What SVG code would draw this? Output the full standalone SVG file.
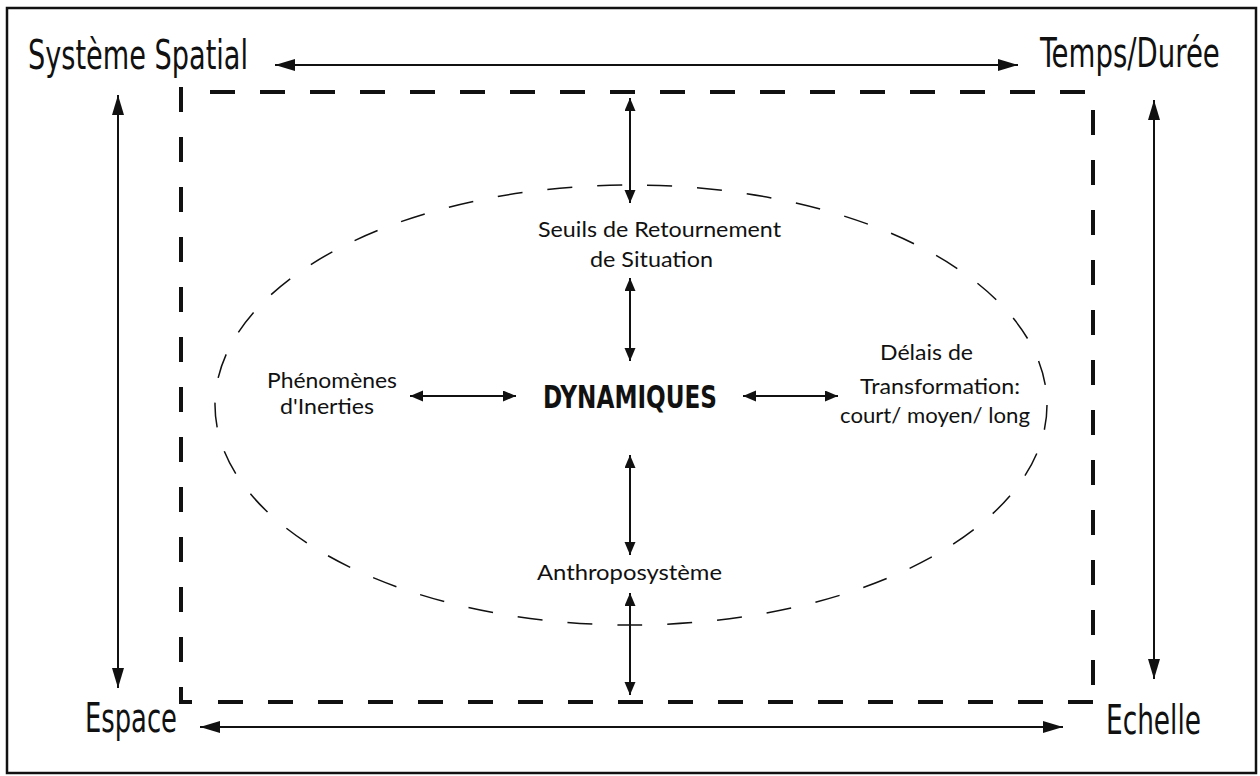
<svg xmlns="http://www.w3.org/2000/svg" width="1260" height="776" viewBox="0 0 1260 776">
<style>
.big{font-family:"Liberation Sans Narrow","DejaVu Sans Condensed","Liberation Sans",sans-serif;font-size:40px;fill:#111}
.sm{font-family:Lato,"Open Sans","Liberation Sans",sans-serif;font-size:21.5px;fill:#111}
.dyn{font-family:"Liberation Sans Narrow","DejaVu Sans Condensed","Liberation Sans",sans-serif;font-size:32px;font-weight:bold;fill:#111}
.conn line{stroke:#111;stroke-width:2}
.big-arrow{marker-start:url(#hb);marker-end:url(#hb)}
.sm-arrow{marker-start:url(#hs);marker-end:url(#hs)}
.box{stroke:#111;stroke-width:4;fill:none;stroke-dasharray:25 25}
</style>
<defs>
<marker id="hb" markerUnits="userSpaceOnUse" markerWidth="22" markerHeight="14" refX="20" refY="6" orient="auto-start-reverse"><path d="M0,0 L20,6 L0,12 z" fill="#111"/></marker>
<marker id="hs" markerUnits="userSpaceOnUse" markerWidth="15" markerHeight="13" refX="13" refY="5.5" orient="auto-start-reverse"><path d="M0,0 L13,5.5 L0,11 z" fill="#111"/></marker>
</defs>
<rect x="0" y="0" width="1260" height="776" fill="#fff"/>
<rect x="7" y="8" width="1249" height="765" fill="none" stroke="#111" stroke-width="2.5"/>
<g id="frame">
<line class="box" x1="210" y1="92" x2="1090" y2="92"/>
<line class="box" x1="1093" y1="110" x2="1093" y2="702"/>
<line class="box" x1="218" y1="702" x2="1095" y2="702"/>
<line class="box" x1="181" y1="87" x2="181" y2="702"/>
<line x1="179" y1="702" x2="192" y2="702" stroke="#111" stroke-width="4"/>
</g>
<g id="ellipse">
<ellipse cx="631" cy="405" rx="416" ry="220" fill="none" stroke="#111" stroke-width="1.5" stroke-dasharray="25 25"/>
</g>
<g id="connectors" class="conn">
<line class="big-arrow" x1="275" y1="65" x2="1018" y2="65"/>
<line class="big-arrow" x1="200" y1="727" x2="1063" y2="727"/>
<line class="big-arrow" x1="118" y1="95" x2="118" y2="688"/>
<line class="big-arrow" x1="1154" y1="100" x2="1154" y2="679"/>
<line class="sm-arrow" x1="630" y1="98" x2="630" y2="203"/>
<line class="sm-arrow" x1="630" y1="278" x2="630" y2="361"/>
<line class="sm-arrow" x1="630" y1="455" x2="630" y2="555"/>
<line class="sm-arrow" x1="630" y1="593" x2="630" y2="695"/>
<line class="sm-arrow" x1="410" y1="396" x2="516" y2="396"/>
<line class="sm-arrow" x1="743" y1="396" x2="838" y2="396"/>
</g>
<g id="systeme-spatial"><text class="big" x="28" y="69" textLength="220" lengthAdjust="spacingAndGlyphs">Système Spatial</text></g>
<g id="temps-duree" transform="translate(1040 67) scale(0.74 1)"><text class="big" x="0" y="0" textLength="243" lengthAdjust="spacingAndGlyphs">Temps/Durée</text></g>
<g id="espace"><text class="big" x="85" y="732" textLength="92" lengthAdjust="spacingAndGlyphs">Espace</text></g>
<g id="echelle"><text class="big" x="1106" y="734" textLength="95" lengthAdjust="spacingAndGlyphs">Echelle</text></g>
<g id="seuils">
<text class="sm" x="538" y="237" textLength="243" lengthAdjust="spacingAndGlyphs">Seuils de Retournement</text>
<text class="sm" x="590" y="267" textLength="123" lengthAdjust="spacingAndGlyphs">de Situation</text>
</g>
<g id="dynamiques"><text class="dyn" x="543" y="408" textLength="174" lengthAdjust="spacingAndGlyphs">DYNAMIQUES</text></g>
<g id="phenomenes">
<text class="sm" x="267" y="388" textLength="130" lengthAdjust="spacingAndGlyphs">Phénomènes</text>
<text class="sm" x="280" y="414" textLength="94" lengthAdjust="spacingAndGlyphs">d'Inerties</text>
</g>
<g id="delais">
<text class="sm" x="880" y="360" textLength="93" lengthAdjust="spacingAndGlyphs">Délais de</text>
<text class="sm" x="860" y="394" textLength="160" lengthAdjust="spacingAndGlyphs">Transformation:</text>
<text class="sm" x="840" y="423" textLength="190" lengthAdjust="spacingAndGlyphs">court/ moyen/ long</text>
</g>
<g id="anthroposysteme"><text class="sm" x="537" y="580" textLength="185" lengthAdjust="spacingAndGlyphs">Anthroposystème</text></g>
</svg>
